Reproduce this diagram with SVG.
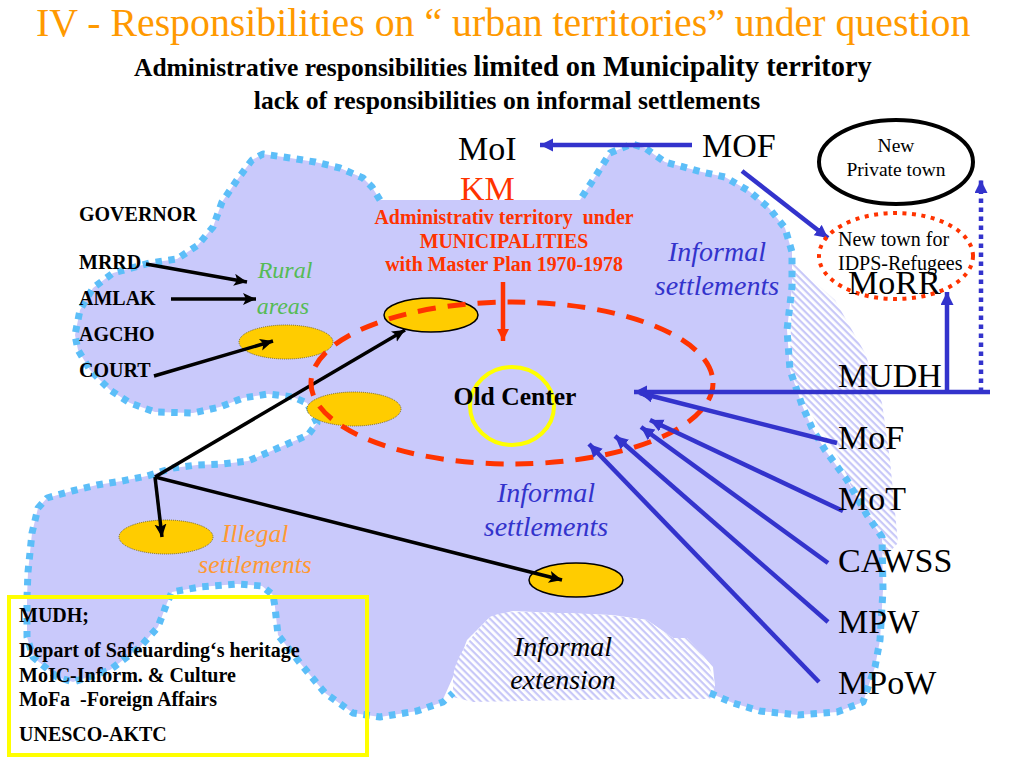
<svg xmlns="http://www.w3.org/2000/svg" width="1024" height="768" viewBox="0 0 1024 768">
<style>
text{font-family:"Liberation Serif","Times New Roman",serif;white-space:pre}
.b{font-weight:bold;font-size:20px;fill:#000}
.big{font-size:34px;fill:#000}
.it{font-style:italic;font-size:28px;text-anchor:middle}
.blue{fill:#3333CC}
.ar{fill:none;stroke:#3333CC;stroke-width:4.5;marker-end:url(#mb)}
.ak{fill:none;stroke:#000;stroke-width:3.5;marker-end:url(#mk)}
.dots{fill:none;stroke:#5CBEF8;stroke-width:7;stroke-dasharray:6.5 6.5;stroke-linejoin:round}
.ey{fill:#FFCC00;stroke:#7a6a20;stroke-width:1;stroke-dasharray:1 1}
.ex{fill:#FFCC00;stroke:#000;stroke-width:1.5}
</style>
<defs>
<marker id="mb" markerUnits="userSpaceOnUse" markerWidth="16" markerHeight="16" refX="13" refY="6.5" orient="auto"><path d="M0 0L13 6.5L0 13Z" fill="#3333CC"/></marker>
<marker id="mk" markerUnits="userSpaceOnUse" markerWidth="16" markerHeight="16" refX="13" refY="6" orient="auto"><path d="M0 0L13 6L0 12L3 6Z" fill="#000"/></marker>
<marker id="mr" markerUnits="userSpaceOnUse" markerWidth="16" markerHeight="16" refX="12" refY="6" orient="auto"><path d="M0 0L12 6L0 12Z" fill="#FF3300"/></marker>
<pattern id="h1" patternUnits="userSpaceOnUse" width="5" height="5" patternTransform="rotate(45)"><rect width="5" height="5" fill="#fff"/><rect width="5" height="2.2" fill="#C8C8F8"/></pattern>
</defs>
<g id="hatch-right"><path d="M792 262L835 300L865 353L882 403L890 460L898 543L882 560L840 460L790 380Z" fill="url(#h1)"/></g>
<g id="territory">
<path fill="#C9C9FB" d="M380 200L372 187L363 178L340 168L315 162L290 158L263 154L252 160L237 180L222 202L213 227L198 245L177 259L150 263L113 273L93 288L80 310L75 335L78 350L90 370L110 390L130 403L155 412L193 413L220 407L243 398L268 394L293 397L307 403L317 423L308 435L285 445L262 455L248 461L223 464L197 465L173 468L147 476L122 481L97 485L72 491L47 498L38 508L32 533L28 572L27 597L27 637L33 657L57 677L73 682L110 670L140 647L158 627L167 603L172 592L200 587L237 584L262 586L273 595L275 607L278 635L300 663L325 693L353 713L380 717L417 711L443 702L453 693L473 702L710 693L733 703L760 711L798 715L837 712L863 702L875 667L880 640L883 590L882 537L867 515L847 480L825 450L812 428L802 405L790 370L787 330L792 287L792 252L785 228L769 208L749 191L725 177L702 172L665 162L645 148L632 144L610 153L595 177L580 200Z"/>
<path fill="#fff" d="M440 706L453 677L467 640L490 617L513 611L557 613L613 615L647 620L673 638L687 638L713 667L715 687L710 694L715 720H440Z"/>
<path fill="url(#h1)" d="M453 677C455 660 467 640 490 617C500 612 513 611 557 613C590 613 613 615 647 620L673 638L687 638C700 650 713 667 715 687L710 699L640 699L473 702L453 697Z"/>
<path class="dots" d="M380 200L372 187L363 178L340 168L315 162L290 158L263 154L252 160L237 180L222 202L213 227L198 245L177 259L150 263L113 273L93 288L80 310L75 335L78 350L90 370L110 390L130 403L155 412L193 413L220 407L243 398L268 394L293 397L307 403L317 423L308 435L285 445L262 455L248 461L223 464L197 465L173 468L147 476L122 481L97 485L72 491L47 498L38 508L32 533L28 572L27 597L27 637L33 657L57 677L73 682L110 670L140 647L158 627L167 603L172 592L200 587L237 584L262 586L273 595L275 607L278 635L300 663L325 693L353 713L380 717L417 711L443 702L453 693"/>
<path class="dots" d="M710 693L733 703L760 711L798 715L837 712L863 702L875 667L880 640L883 590L882 537L867 515L847 480L825 450L812 428L802 405L790 370L787 330L792 287L792 252L785 228L769 208L749 191L725 177L702 172L665 162L645 148L632 144L610 153L595 177L580 200"/>
</g>
<g id="connector-under"><path class="ak" d="M155 477L405 330"/></g>
<g id="settlement-1"><ellipse class="ey" cx="286" cy="342" rx="47" ry="17"/></g>
<g id="settlement-2"><ellipse class="ex" cx="431" cy="315" rx="47" ry="17"/></g>
<g id="settlement-3"><ellipse class="ey" cx="354" cy="409" rx="47" ry="17"/></g>
<g id="settlement-4"><ellipse class="ey" cx="166" cy="537" rx="47" ry="17"/></g>
<g id="settlement-5"><ellipse class="ex" cx="576" cy="580" rx="47" ry="17"/></g>
<g id="municipality"><ellipse cx="512" cy="383" rx="201" ry="81" fill="none" stroke="#FF3300" stroke-width="5" stroke-dasharray="18 12"/></g>
<g id="old-center"><ellipse cx="512" cy="406" rx="42" ry="39" fill="none" stroke="#FFFF00" stroke-width="4"/><text class="b" x="515" y="405" text-anchor="middle" style="font-size:25.6px">Old Center</text></g>
<g id="connectors">
<path class="ar" d="M692 145H540"/>
<path class="ar" d="M742 171L828 238"/>
<path class="ar" d="M990 392H634"/>
<path class="ar" d="M947 392V292"/>
<path class="ar" d="M981 392V180" style="stroke-dasharray:4.5 4.5"/>
<path class="ar" d="M837 443L640 393"/>
<path class="ar" d="M843 511L650 420"/>
<path class="ar" d="M828 563L641 427"/>
<path class="ar" d="M828 622L615 436"/>
<path class="ar" d="M819 682L589 444"/>
<path class="ak" d="M146 264L247 282"/>
<path class="ak" d="M171 299H256"/>
<path class="ak" d="M154 376L273 341"/>
<path class="ak" d="M155 477L162 537"/>
<path class="ak" d="M155 477L562 580"/>
<path d="M503 282V341" fill="none" stroke="#FF3300" stroke-width="4.5" marker-end="url(#mr)"/>
</g>
<g id="title">
<text x="36" y="36" font-size="39.8" fill="#FF9900">IV - Responsibilities on “ urban territories” under question</text>
<text x="134" y="76" font-weight="bold" font-size="25.5">Administrative responsibilities <tspan font-size="28.4">limited on Municipality territory</tspan></text>
<text x="507" y="109" font-weight="bold" font-size="25.6" text-anchor="middle">lack of responsibilities on informal settlements</text>
</g>
<g id="moi"><text class="big" x="458" y="160">MoI</text></g>
<g id="km"><text class="big" x="460" y="200" style="fill:#FF3300">KM</text></g>
<g id="mof-top"><text class="big" x="702" y="157">MOF</text></g>
<g id="admin-territory" font-weight="bold" font-size="19.9" fill="#FF3300" text-anchor="middle">
<text x="504" y="224">Administrativ territory  under</text>
<text x="504" y="248">MUNICIPALITIES</text>
<text x="504" y="271">with Master Plan 1970-1978</text>
</g>
<g id="governor"><text class="b" x="79" y="221">GOVERNOR</text></g>
<g id="mrrd"><text class="b" x="79" y="269">MRRD</text></g>
<g id="amlak"><text class="b" x="79" y="305">AMLAK</text></g>
<g id="agcho"><text class="b" x="79" y="341">AGCHO</text></g>
<g id="court"><text class="b" x="79" y="377">COURT</text></g>
<g id="rural-areas" fill="#55BB55" font-style="italic" font-size="24" text-anchor="middle">
<text x="285" y="278">Rural</text><text x="283" y="314">areas</text>
</g>
<g id="informal-1"><text class="it blue" x="717" y="261">Informal</text><text class="it blue" x="717" y="295">settlements</text></g>
<g id="informal-2"><text class="it blue" x="546" y="502">Informal</text><text class="it blue" x="546" y="536">settlements</text></g>
<g id="illegal" style="fill:#FF9933"><text class="it" x="255" y="542" style="font-size:25.5px">Illegal</text><text class="it" x="255" y="573" style="font-size:25.5px">settlements</text></g>
<g id="extension"><text class="it" x="563" y="656">Informal</text><text class="it" x="563" y="689">extension</text></g>
<g id="private-town"><ellipse cx="896" cy="162" rx="77" ry="42" fill="none" stroke="#000" stroke-width="4"/>
<text x="896" y="152" font-size="19.5" text-anchor="middle">New</text><text x="896" y="176" font-size="19.5" text-anchor="middle">Private town</text></g>
<g id="refugee-town"><ellipse cx="896" cy="256" rx="77" ry="43" fill="none" stroke="#FF3300" stroke-width="4" stroke-dasharray="4 5.5"/>
<text x="838" y="246" font-size="20">New town for</text><text x="838" y="270" font-size="20">IDPS-Refugees</text></g>
<g id="morr"><text class="big" x="848" y="294">MoRR</text></g>
<g id="mudh"><text class="big" x="838" y="387">MUDH</text></g>
<g id="mof"><text class="big" x="838" y="449">MoF</text></g>
<g id="mot"><text class="big" x="838" y="510">MoT</text></g>
<g id="cawss"><text class="big" x="838" y="572">CAWSS</text></g>
<g id="mpw"><text class="big" x="838" y="633">MPW</text></g>
<g id="mpow"><text class="big" x="838" y="694">MPoW</text></g>
<g id="heritage-box"><rect x="9" y="597" width="358" height="158" fill="none" stroke="#FFFF00" stroke-width="4"/>
<text class="b" x="19" y="622">MUDH;</text>
<text class="b" x="19" y="657">Depart of Safeuarding‘s heritage</text>
<text class="b" x="19" y="682">MoIC-Inform. &amp; Culture</text>
<text class="b" x="19" y="706">MoFa  -Foreign Affairs</text>
<text class="b" x="19" y="741">UNESCO-AKTC</text></g>
</svg>
